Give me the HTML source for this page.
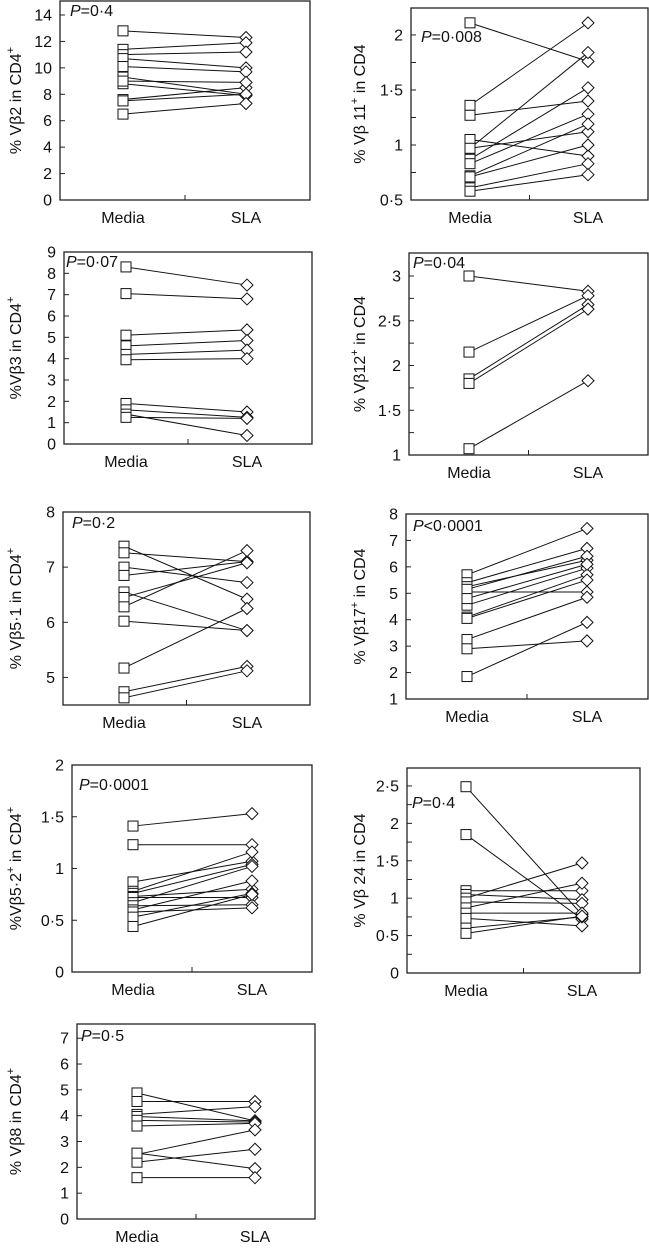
<!DOCTYPE html>
<html><head><meta charset="utf-8">
<style>
html,body{margin:0;padding:0;background:#fff;}
svg{display:block;font-family:"Liberation Sans",Arial,sans-serif;}
</style></head>
<body>
<svg id="fig" width="649" height="1248" viewBox="0 0 649 1248" xmlns="http://www.w3.org/2000/svg"></svg>
<script>
// ---- data ----
const categories = ["Media", "SLA"];
const p1Media = [12.8, 11.4, 11.0, 10.7, 10.1, 9.3, 8.8, 7.6, 7.5, 6.5, 9.0];
const p1Sla   = [12.3, 11.9, 11.2, 10.0, 9.7, 8.0, 7.9, 8.5, 8.0, 7.3, 8.9];
const p1Ticks = [0, 2, 4, 6, 8, 10, 12, 14];
const p2Media = [2.11, 1.36, 1.27, 0.97, 1.05, 0.87, 0.83, 0.97, 0.72, 0.71, 0.61, 0.58];
const p2Sla   = [1.76, 2.11, 1.40, 1.84, 0.90, 1.52, 1.28, 1.12, 1.19, 1.00, 0.83, 0.73];
const p2Ticks = [0.5, 1, 1.5, 2];
const p3Media = [8.3, 7.05, 5.1, 4.6, 4.2, 3.95, 1.9, 1.6, 1.4, 1.25];
const p3Sla   = [7.45, 6.8, 5.35, 4.85, 4.4, 4.0, 1.5, 1.25, 0.4, 1.2];
const p3Ticks = [0, 1, 2, 3, 4, 5, 6, 7, 8, 9];
const p4Media = [3.0, 2.15, 1.85, 1.8, 1.07];
const p4Sla   = [2.83, 2.78, 2.68, 2.63, 1.83];
const p4Ticks = [1, 1.5, 2, 2.5, 3];
const p5Media = [7.38, 7.26, 7.0, 6.85, 6.55, 6.45, 6.28, 6.02, 5.17, 4.74, 4.63];
const p5Sla   = [6.42, 7.1, 6.72, 7.1, 5.85, 7.08, 7.3, 5.85, 6.25, 5.2, 5.12];
const p5Ticks = [5, 6, 7, 8];
const p6Media = [5.7, 5.4, 5.25, 5.05, 5.15, 4.55, 4.1, 4.05, 3.25, 2.9, 1.85, 4.8];
const p6Sla   = [7.45, 6.7, 6.25, 5.05, 6.4, 5.95, 5.7, 5.5, 4.85, 3.2, 3.9, 6.1];
const p6Ticks = [1, 2, 3, 4, 5, 6, 7, 8];
const p7Media = [1.41, 1.23, 0.87, 0.78, 0.76, 0.73, 0.72, 0.67, 0.64, 0.60, 0.58, 0.53, 0.44];
const p7Sla   = [1.53, 1.23, 1.07, 1.16, 1.04, 0.80, 0.72, 1.02, 0.65, 0.88, 0.62, 0.76, 0.75];
const p7Ticks = [0, 0.5, 1, 1.5, 2];
const p8Media = [2.49, 1.85, 1.10, 1.05, 1.0, 0.95, 0.87, 0.80, 0.73, 0.60, 0.53];
const p8Sla   = [0.78, 0.72, 1.10, 0.98, 1.47, 0.93, 1.20, 0.80, 0.63, 0.75, 0.76];
const p8Ticks = [0, 0.5, 1, 1.5, 2, 2.5];
const p9Media = [4.88, 4.55, 4.05, 3.97, 3.82, 3.6, 2.5, 2.2, 2.55, 1.6];
const p9Sla   = [3.8, 4.55, 4.35, 3.8, 3.75, 3.7, 3.45, 2.7, 1.95, 1.6];
const p9Ticks = [0, 1, 2, 3, 4, 5, 6, 7];

// ---- layout ----
const panels = [
 {id:"vb2",  media:p1Media,sla:p1Sla,ticks:p1Ticks,minor:0,   x0:60, x1:310,yT:1,  yB:200, vB:0,  vT:15.06,mx:123,sx:246,title:"% Vβ2  in CD4",sup:"+",p:"P=0·4",px:70,py:16, tx:18},
 {id:"vb11", media:p2Media,sla:p2Sla,ticks:p2Ticks,minor:0.25,x0:411,x1:648,yT:8,  yB:200, vB:0.5,vT:2.245,mx:470,sx:588,title:"% Vβ 11",sup:"+",after:" in CD4",p:"P=0·008",px:421,py:42,tx:362},
 {id:"vb3",  media:p3Media,sla:p3Sla,ticks:p3Ticks,minor:0,   x0:64, x1:312,yT:252,yB:444, vB:0,  vT:9,   mx:126,sx:247,title:"%Vβ3 in CD4",sup:"+",p:"P=0·07",px:66,py:267,tx:18},
 {id:"vb12", media:p4Media,sla:p4Sla,ticks:p4Ticks,minor:0.25,x0:409,x1:648,yT:253,yB:455, vB:1,  vT:3.257,mx:469,sx:588,title:"% Vβ12",sup:"+",after:" in CD4",p:"P=0·04",px:413,py:268,tx:362},
 {id:"vb5-1",media:p5Media,sla:p5Sla,ticks:p5Ticks,minor:0,   x0:63, x1:310,yT:512,yB:705, vB:4.5,vT:8,   mx:124,sx:247,title:"% Vβ5·1 in CD4",sup:"+",p:"P=0·2",px:72,py:528,tx:18},
 {id:"vb17", media:p6Media,sla:p6Sla,ticks:p6Ticks,minor:0,   x0:406,x1:648,yT:514,yB:699, vB:1,  vT:8,   mx:467,sx:587,title:"% Vβ17",sup:"+",after:" in CD4",p:"P<0·0001",px:413,py:531,tx:362},
 {id:"vb5-2",media:p7Media,sla:p7Sla,ticks:p7Ticks,minor:0,   x0:72, x1:312,yT:765,yB:972, vB:0,  vT:2,   mx:133,sx:252,title:"%Vβ5·2",sup:"+",after:" in CD4",sup2:"+",p:"P=0·0001",px:79,py:790,tx:18},
 {id:"vb24", media:p8Media,sla:p8Sla,ticks:p8Ticks,minor:0.25,x0:407,x1:640,yT:768,yB:973, vB:0,  vT:2.74,mx:466,sx:582,title:"% Vβ 24 in CD4",p:"P=0·4",px:412,py:808,tx:362},
 {id:"vb8",  media:p9Media,sla:p9Sla,ticks:p9Ticks,minor:0,   x0:77, x1:315,yT:1024,yB:1219,vB:0, vT:7.55,mx:137,sx:255,title:"% Vβ8 in CD4",sup:"+",p:"P=0·5",px:81,py:1041,tx:18}
];

const NS = "http://www.w3.org/2000/svg";
const svg = document.getElementById("fig");
function mk(tag, attrs, parent){
  const e = document.createElementNS(NS, tag);
  for (const k in attrs) e.setAttribute(k, attrs[k]);
  parent.appendChild(e);
  return e;
}
function fmt(v){ return String(v).replace(".", "·"); }

panels.forEach(function(pn){
  const g = mk("g", {}, svg);
  
  
  const y = function(v){ return pn.yB - (v - pn.vB) * (pn.yB - pn.yT) / (pn.vT - pn.vB); };
  const box = mk("rect", {x:pn.x0, y:pn.yT, width:pn.x1-pn.x0, height:pn.yB-pn.yT, fill:"none", stroke:"#222", "stroke-width":1.3}, g);
  
  
  pn.ticks.forEach(function(t){
    const ln = mk("line", {x1:pn.x0, x2:pn.x0+5, y1:y(t), y2:y(t), stroke:"#222", "stroke-width":1}, g);
    
    
    const tx = mk("text", {x:pn.x0-8, y:y(t)+5.5, "text-anchor":"end", "font-size":16, fill:"#111"}, g);
    tx.textContent = fmt(t);
    
    
  });
  if (pn.minor){
    const step = pn.ticks[1] - pn.ticks[0];
    pn.ticks.forEach(function(t){
      const m = t + step/2;
      if (y(m) > pn.yT + 2){
        const ln = mk("line", {x1:pn.x0, x2:pn.x0+5, y1:y(m), y2:y(m), stroke:"#222", "stroke-width":1}, g);
        
        
      }
    });
  }
  const mid = (pn.x0 + pn.x1)/2;
  const ct = mk("line", {x1:mid, x2:mid, y1:pn.yB, y2:pn.yB-5, stroke:"#222", "stroke-width":1}, g);
  
  
  [pn.mx, pn.sx].forEach(function(cx, i){
    const tx = mk("text", {x:cx, y:pn.yB+23, "text-anchor":"middle", "font-size":16, fill:"#111"}, g);
    tx.textContent = categories[i];
    
    
  });
  const cy = (pn.yT + pn.yB)/2;
  const tt = mk("text", {x:pn.tx + 3, y:cy, "text-anchor":"middle", "font-size":16, fill:"#111", transform:"rotate(-90 "+(pn.tx+3)+" "+cy+")"}, g);
  
  
  const s1 = mk("tspan", {}, tt); s1.textContent = pn.title;
  if (pn.sup){ const s = mk("tspan", {dy:-7, "font-size":11}, tt); s.textContent = pn.sup; }
  if (pn.after){ const s = mk("tspan", {dy:pn.sup?7:0}, tt); s.textContent = pn.after; }
  if (pn.sup2){ const s = mk("tspan", {dy:-7, "font-size":11}, tt); s.textContent = pn.sup2; }
  const pv = mk("text", {x:pn.px, y:pn.py, "font-size":16, fill:"#111"}, g);
  
  
  const pi = mk("tspan", {"font-style":"italic"}, pv); pi.textContent = "P";
  const pr = mk("tspan", {}, pv); pr.textContent = pn.p.slice(1);
  pn.media.forEach(function(v, i){
    const ln = mk("line", {x1:pn.mx, y1:y(v), x2:pn.sx, y2:y(pn.sla[i]), stroke:"#111", "stroke-width":1}, g);
    
    
  });
  pn.media.forEach(function(v){
    const r = mk("rect", {x:pn.mx-5, y:y(v)-5, width:10, height:10, fill:"#fff", stroke:"#111", "stroke-width":1}, g);
    
    
  });
  pn.sla.forEach(function(v){
    const yy = y(v), x = pn.sx;
    const d = mk("polygon", {points:(x)+","+(yy-6)+" "+(x+6)+","+yy+" "+x+","+(yy+6)+" "+(x-6)+","+yy, fill:"#fff", stroke:"#111", "stroke-width":1}, g);
    
    
  });
});
</script>
</body></html>
